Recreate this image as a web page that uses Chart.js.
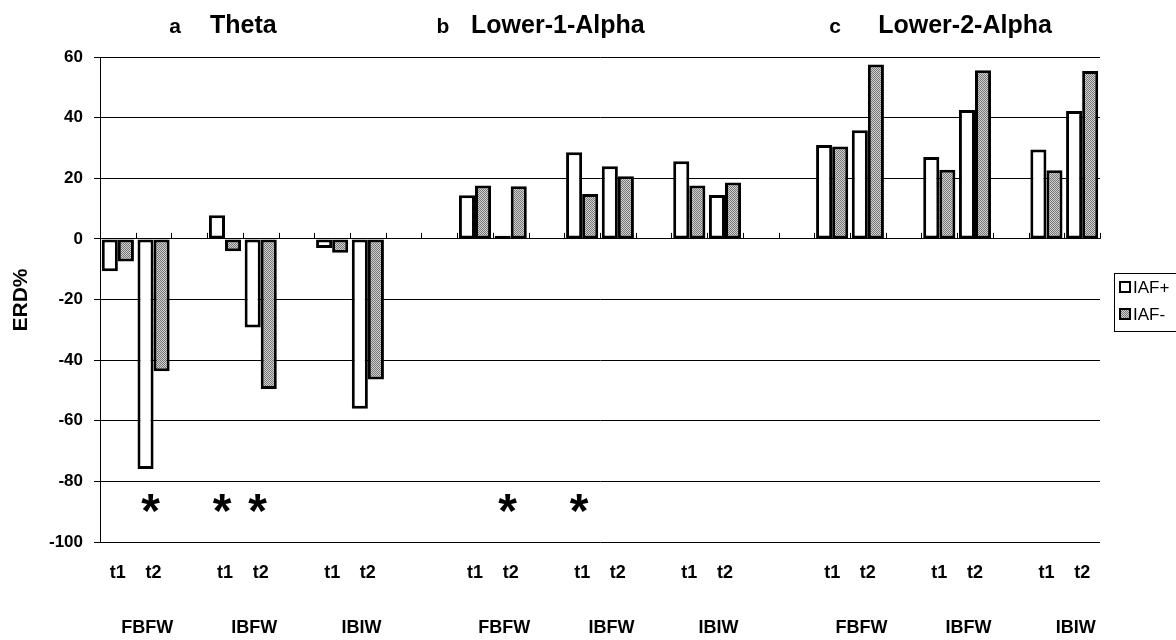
<!DOCTYPE html>
<html>
<head>
<meta charset="utf-8">
<script src="https://cdn.jsdelivr.net/npm/chart.js@4.4.1/dist/chart.umd.min.js"></script>
<style>
  html, body { margin: 0; padding: 0; background: #fff; }
  #wrap { width: 1176px; height: 640px; }
</style>
</head>
<body>
<div id="wrap"><canvas id="erdChart" width="1176" height="640"></canvas></div>
<script>
// band / condition names
const bands = ['Theta', 'Lower-1-Alpha', 'Lower-2-Alpha'];
const bandLetters = ['a', 'b', 'c'];
const conditions = ['FBFW', 'IBFW', 'IBIW'];
const times = ['t1', 't2'];
const yTicks = [-100, -80, -60, -40, -20, 0, 20, 40, 60];

// ERD% per band, order: FBFW t1, t2, IBFW t1, t2, IBIW t1, t2
const thetaPlus = [-10.7, -75.9, 7.8, -29.2, -3.0, -56.0];
const thetaMinus = [-7.5, -43.7, -4.1, -49.5, -4.6, -46.4];
const alpha1Plus = [14.4, 1.0, 28.6, 24.0, 25.6, 14.5];
const alpha1Minus = [17.6, 17.4, 14.8, 20.7, 17.6, 18.6];
const alpha2Plus = [31.0, 35.8, 27.0, 42.5, 29.5, 42.2];
const alpha2Minus = [30.5, 57.5, 22.8, 55.6, 22.6, 55.4];

// significant differences: [band, condition, time]
const stars = [[0, 0, 1], [0, 1, 0], [0, 1, 1], [1, 0, 1], [1, 1, 0]];

const FONT = '"Liberation Sans", Arial, sans-serif';

// lay out the categories: t1 t2 gap t1 t2 gap t1 t2, two gaps between bands
const xLabels = [];
const catIndex = {}; // "band-cond-time" -> index
bands.forEach((b, bi) => {
    if (bi > 0) { xLabels.push(''); xLabels.push(''); }
    conditions.forEach((c, ci) => {
        if (ci > 0) xLabels.push('');
        times.forEach((t, ti) => {
            catIndex[bi + '-' + ci + '-' + ti] = xLabels.length;
            xLabels.push(t);
        });
    });
});

function spread(perBand) {
    const out = xLabels.map(() => null);
    perBand.forEach((vals, bi) => {
        vals.forEach((v, k) => {
            out[catIndex[bi + '-' + Math.floor(k / 2) + '-' + (k % 2)]] = v;
        });
    });
    return out;
}

const iafPlus = spread([thetaPlus, alpha1Plus, alpha2Plus]);
const iafMinus = spread([thetaMinus, alpha1Minus, alpha2Minus]);

const canvas = document.getElementById('erdChart');
const ctx = canvas.getContext('2d');

function dotPattern() {
    const c = document.createElement('canvas');
    c.width = 2;
    c.height = 2;
    const g = c.getContext('2d');
    g.fillStyle = '#d0d0d0';
    g.fillRect(0, 0, 2, 2);
    g.fillStyle = '#777';
    g.fillRect(0, 0, 1, 1);
    g.fillRect(1, 1, 1, 1);
    return ctx.createPattern(c, 'repeat');
}
const grayFill = dotPattern();

// title placement, in category units from the left edge of each band's first t1
const titleLetterOffset = [2.1, -0.4, 0.58];
const titleTextOffset = [3.08, 0.39, 1.79];

// small tick marks on the zero line, behind the bars
const zeroTicks = {
    id: 'zeroTicks',
    beforeDatasetsDraw(chart) {
        const g = chart.ctx;
        const x = chart.scales.x;
        const y0 = chart.scales.y.getPixelForValue(0);
        g.save();
        g.strokeStyle = '#000';
        g.lineWidth = 1;
        g.beginPath();
        for (let i = 0; i <= xLabels.length; i++) {
            const px = Math.round(x.getPixelForValue(i - 0.5)) + 0.5;
            g.moveTo(px, y0);
            g.lineTo(px, y0 - 6);
        }
        g.stroke();
        g.restore();
    }
};

const annotations = {
    id: 'annotations',
    afterDraw(chart) {
        const g = chart.ctx;
        const x = chart.scales.x;
        const y = chart.scales.y;
        const step = x.getPixelForValue(1) - x.getPixelForValue(0);
        g.save();
        g.fillStyle = '#000';

        // band titles
        g.textBaseline = 'alphabetic';
        bands.forEach((b, bi) => {
            const start = x.getPixelForValue(catIndex[bi + '-0-0']) - step / 2;
            g.font = 'bold 25px ' + FONT;
            g.textAlign = 'left';
            g.fillText(b, start + titleTextOffset[bi] * step, 33);
            g.font = 'bold 21px ' + FONT;
            g.textAlign = 'center';
            g.fillText(bandLetters[bi], start + titleLetterOffset[bi] * step, 33);
        });

        // condition labels under t1/t2
        g.font = 'bold 18px ' + FONT;
        g.textAlign = 'center';
        g.textBaseline = 'middle';
        bands.forEach((b, bi) => {
            conditions.forEach((c, ci) => {
                const a = x.getPixelForValue(catIndex[bi + '-' + ci + '-0']);
                const z = x.getPixelForValue(catIndex[bi + '-' + ci + '-1']);
                g.fillText(c, (a + z) / 2 + 0.32 * step, 628);
            });
        });

        // asterisks
        g.font = 'bold 48px ' + FONT;
        g.textBaseline = 'alphabetic';
        stars.forEach(s => {
            const px = x.getPixelForValue(catIndex[s.join('-')]) - 3;
            g.fillText('*', px, y.getPixelForValue(-88) + 21);
        });

        // y title
        g.save();
        g.translate(21, 300);
        g.rotate(-Math.PI / 2);
        g.font = 'bold 21px ' + FONT;
        g.textAlign = 'center';
        g.textBaseline = 'middle';
        g.fillText('ERD%', 0, 0);
        g.restore();

        // legend box
        g.strokeStyle = '#000';
        g.lineWidth = 1;
        g.strokeRect(1114.5, 273.5, 70, 58);
        const items = [['IAF+', '#fff'], ['IAF-', grayFill]];
        items.forEach((it, i) => {
            const top = 282 + i * 27;
            g.fillStyle = it[1];
            g.fillRect(1120, top, 10, 10);
            g.lineWidth = 2;
            g.strokeStyle = '#000';
            g.strokeRect(1120, top, 10, 10);
            g.fillStyle = '#000';
            g.font = '17px ' + FONT;
            g.textAlign = 'left';
            g.textBaseline = 'middle';
            g.fillText(it[0], 1133, top + 6);
        });
        g.restore();
    }
};

new Chart(ctx, {
    type: 'bar',
    data: {
        labels: xLabels,
        datasets: [{
            label: 'IAF+',
            data: iafPlus,
            backgroundColor: '#ffffff',
            borderColor: '#000000',
            borderWidth: 3,
            borderSkipped: false
        }, {
            label: 'IAF-',
            data: iafMinus,
            backgroundColor: grayFill,
            borderColor: '#000000',
            borderWidth: 3,
            borderSkipped: false
        }]
    },
    options: {
        responsive: false,
        animation: false,
        events: [],
        layout: { padding: { top: 57, right: 76, bottom: 0, left: 0 } },
        datasets: {
            bar: { categoryPercentage: 0.9, barPercentage: 1.0 }
        },
        plugins: {
            legend: { display: false },
            tooltip: { enabled: false }
        },
        scales: {
            x: {
                grid: { display: false, drawTicks: false },
                border: { display: false },
                ticks: {
                    autoSkip: false,
                    maxRotation: 0,
                    color: '#000',
                    padding: 20,
                    font: { family: FONT, size: 18, weight: 'bold' }
                },
                afterFit: (scale) => { scale.height = 98; }
            },
            y: {
                min: -100,
                max: 60,
                afterBuildTicks: (scale) => {
                    scale.ticks = yTicks.map(v => ({ value: v }));
                },
                grid: { color: '#000', lineWidth: 1, tickLength: 6, tickColor: '#000' },
                border: { color: '#000', width: 1 },
                ticks: {
                    color: '#000',
                    padding: 11,
                    font: { family: FONT, size: 17, weight: 'bold' }
                },
                afterFit: (scale) => { scale.width = 100; }
            }
        }
    },
    plugins: [zeroTicks, annotations]
});
</script>
</body>
</html>
